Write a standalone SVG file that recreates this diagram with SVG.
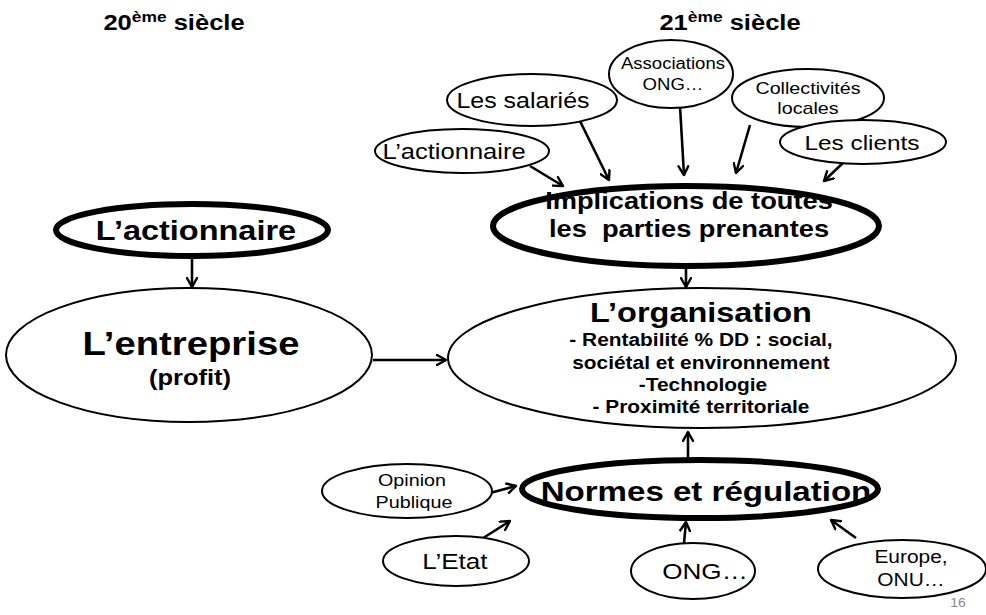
<svg xmlns="http://www.w3.org/2000/svg" width="986" height="615" viewBox="0 0 986 615">
  <defs>
    <marker id="arrow" viewBox="0 0 12 12" refX="10" refY="6" markerWidth="12" markerHeight="12" markerUnits="userSpaceOnUse" orient="auto">
      <path d="M1,1 L10,6 L1,11" fill="none" stroke="#000" stroke-width="2.4" stroke-linecap="round" stroke-linejoin="round"/>
    </marker>
  </defs>
  <style>
    text { font-family: "Liberation Sans", Arial, sans-serif; fill: #000; text-anchor: middle;
           transform-box: fill-box; transform-origin: center; transform: scaleX(1.16); }
    .b { font-weight: bold; }
    .thin { fill: #fff; stroke: #000; stroke-width: 2; }
    .thick { fill: #fff; stroke: #000; stroke-width: 6; }
    .conn line { stroke: #000; stroke-width: 2.6; marker-end: url(#arrow); }
  </style>
  <rect width="986" height="615" fill="#fff"/>

  <!-- century headings -->
  <text class="b" x="174" y="30" font-size="22">20<tspan font-size="15" dy="-8">ème</tspan><tspan dy="8"> siècle</tspan></text>
  <text class="b" x="730" y="30" font-size="22">21<tspan font-size="15" dy="-8">ème</tspan><tspan dy="8"> siècle</tspan></text>

  <!-- connectors -->
  <g id="connectors" class="conn">
    <line x1="192" y1="258" x2="192" y2="287"/>
    <line x1="373" y1="360" x2="446" y2="360"/>
    <line x1="530" y1="166" x2="563" y2="186"/>
    <line x1="578" y1="117" x2="609" y2="180"/>
    <line x1="680" y1="106" x2="684" y2="175"/>
    <line x1="750" y1="125" x2="736" y2="173"/>
    <line x1="845" y1="161" x2="824" y2="181"/>
    <line x1="686" y1="266" x2="686" y2="287"/>
    <line x1="688" y1="461" x2="688" y2="432"/>
    <line x1="490" y1="493" x2="516" y2="486"/>
    <line x1="480" y1="540" x2="510" y2="521"/>
    <line x1="684" y1="543" x2="686" y2="522"/>
    <line x1="856" y1="538" x2="831" y2="520"/>
  </g>

  <!-- 20th century -->
  <g id="actionnaire20">
    <ellipse class="thick" cx="192" cy="230" rx="136" ry="26"/>
    <text class="b" x="196" y="240" font-size="28">L’actionnaire</text>
  </g>
  <g id="entreprise">
    <ellipse class="thin" cx="189" cy="355" rx="183" ry="67"/>
    <text class="b" x="191" y="355" font-size="33">L’entreprise</text>
    <text class="b" x="190" y="385" font-size="22">(profit)</text>
  </g>

  <!-- 21st century stakeholders -->
  <g id="associations">
    <ellipse class="thin" cx="671" cy="74" rx="62" ry="34"/>
    <text x="673" y="69" font-size="16">Associations</text>
    <text x="673" y="90" font-size="16">ONG…</text>
  </g>
  <g id="salaries">
    <ellipse class="thin" cx="532" cy="100" rx="85" ry="26"/>
    <text x="523" y="108" font-size="21.5">Les salariés</text>
  </g>
  <g id="collectivites">
    <ellipse class="thin" cx="808" cy="98" rx="76" ry="29"/>
    <text x="808" y="94" font-size="17">Collectivités</text>
    <text x="808" y="114" font-size="17">locales</text>
  </g>
  <g id="actionnaire21">
    <ellipse class="thin" cx="462" cy="151" rx="87" ry="22"/>
    <text x="454" y="159" font-size="22">L’actionnaire</text>
  </g>
  <g id="clients">
    <ellipse class="thin" cx="863" cy="142" rx="83" ry="22"/>
    <text x="862" y="150" font-size="21">Les clients</text>
  </g>
  <g id="implications">
    <ellipse class="thick" cx="686" cy="226" rx="193" ry="40"/>
    <text class="b" x="689" y="209" font-size="23.5">Implications de toutes</text>
    <text class="b" x="689" y="237" font-size="23.5" xml:space="preserve">les  parties prenantes</text>
  </g>
  <g id="organisation">
    <ellipse class="thin" cx="702" cy="358" rx="254" ry="70"/>
    <text class="b" x="701" y="322" font-size="28">L’organisation</text>
    <text class="b" x="701" y="346" font-size="18">- Rentabilité % DD : social,</text>
    <text class="b" x="701" y="369" font-size="18">sociétal et environnement</text>
    <text class="b" x="703" y="391" font-size="18">-Technologie</text>
    <text class="b" x="701" y="413" font-size="18">- Proximité territoriale</text>
  </g>

  <!-- regulation -->
  <g id="normes">
    <ellipse class="thick" cx="700" cy="489" rx="178" ry="29"/>
    <text class="b" x="706" y="501" font-size="28.5">Normes et régulation</text>
  </g>
  <g id="opinion">
    <ellipse class="thin" cx="407" cy="491" rx="85" ry="27"/>
    <text x="412" y="486" font-size="17">Opinion</text>
    <text x="414" y="508" font-size="17">Publique</text>
  </g>
  <g id="etat">
    <ellipse class="thin" cx="456" cy="561" rx="73" ry="25"/>
    <text x="455" y="569" font-size="22.5">L’Etat</text>
  </g>
  <g id="ong">
    <ellipse class="thin" cx="693" cy="571" rx="62" ry="28"/>
    <text x="705" y="579" font-size="22.5">ONG…</text>
  </g>
  <g id="europe">
    <ellipse class="thin" cx="902" cy="569" rx="84" ry="29"/>
    <text x="911" y="563" font-size="18">Europe,</text>
    <text x="911" y="586" font-size="18">ONU…</text>
  </g>

  <text x="958" y="607" font-size="12" style="fill:#8a8a8a">16</text>
</svg>
